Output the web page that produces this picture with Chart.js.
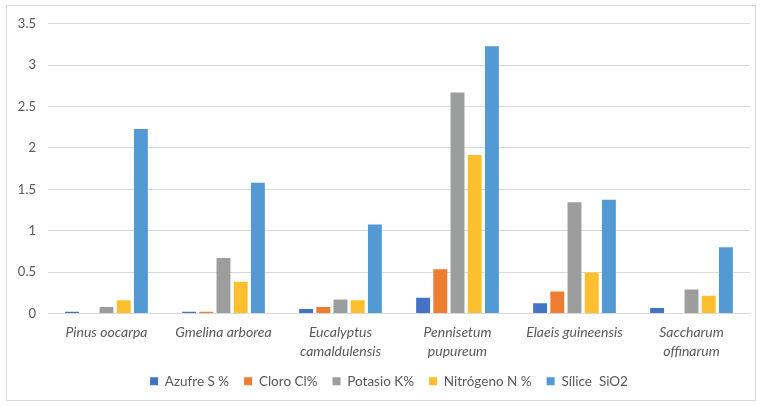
<!DOCTYPE html>
<html>
<head>
<meta charset="utf-8">
<script src="https://cdn.jsdelivr.net/npm/chart.js@4.4.1/dist/chart.umd.min.js"></script>
<style>
  html, body { margin: 0; padding: 0; background: #ffffff; }
  #wrap { position: relative; width: 760px; height: 406px; }
  #frame { position: absolute; left: 6px; top: 5px; width: 748px; height: 394px; border: 1px solid #d9d9d9; }
  canvas { position: absolute; left: 0; top: 0; }
</style>
</head>
<body>
<div id="wrap">
  <div id="frame"></div>
  <canvas id="c" width="760" height="406"></canvas>
</div>
<script>
// Species analysed
const categories = [
  'Pinus oocarpa',
  'Gmelina arborea',
  ['Eucalyptus', 'camaldulensis'],
  ['Pennisetum', 'pupureum'],
  'Elaeis guineensis',
  ['Saccharum', 'offinarum']
];

// Composition per species
const azufre    = [0.02, 0.02, 0.055, 0.19, 0.125, 0.065];
const cloro     = [0,    0.02, 0.08,  0.535, 0.265, 0];
const potasio   = [0.08, 0.67, 0.17,  2.67, 1.345, 0.29];
const nitrogeno = [0.16, 0.385, 0.16, 1.915, 0.495, 0.215];
const silice    = [2.23, 1.58, 1.075, 3.23, 1.375, 0.80];

const seriesNames = ['Azufre S %', 'Cloro Cl%', 'Potasio K%', 'Nitrógeno N %', 'Sílice  SiO2'];
const seriesColors = ['#4472c4', '#ed7d31', '#9c9e9e', '#fdbf2d', '#5399d4'];

const yTicks = [0, 0.5, 1, 1.5, 2, 2.5, 3, 3.5];

const FONT = 'Lato, "Open Sans", sans-serif';
const TEXT = '#595959';

const data = {
  labels: categories,
  datasets: [azufre, cloro, potasio, nitrogeno, silice].map((vals, i) => ({
    label: seriesNames[i],
    data: vals,
    backgroundColor: seriesColors[i],
    borderWidth: 0,
    barPercentage: 0.81,
    categoryPercentage: 0.735
  }))
};

// Nudge the legend row slightly right of the canvas center
const legendOffset = {
  id: 'legendOffset',
  afterLayout(chart) {
    const lg = chart.legend;
    if (!lg) return;
    lg.left += 14;
    lg.right += 14;
  }
};

new Chart(document.getElementById('c'), {
  type: 'bar',
  data,
  plugins: [legendOffset],
  options: {
    responsive: false,
    animation: false,
    devicePixelRatio: 1,
    layout: { padding: { left: 0, right: 10, top: 23.8, bottom: 8 } },
    scales: {
      x: {
        grid: { display: false, drawTicks: false },
        border: { display: true, color: '#d9d9d9', width: 1 },
        ticks: {
          color: TEXT,
          font: { family: FONT, size: 14, style: 'italic', lineHeight: 1.4 },
          padding: 9,
          maxRotation: 0,
          autoSkip: false
        },
        afterFit: s => { s.height = 46; }
      },
      y: {
        min: 0,
        max: 3.5,
        afterBuildTicks: s => { s.ticks = yTicks.map(v => ({ value: v })); },
        grid: { color: '#d9d9d9', lineWidth: 1, drawTicks: false },
        border: { display: false },
        ticks: {
          color: TEXT,
          font: { family: FONT, size: 13 },
          padding: 12,
          callback: v => String(v)
        },
        afterFit: s => { s.width = 48; }
      }
    },
    plugins: {
      tooltip: { enabled: false },
      legend: {
        position: 'bottom',
        labels: {
          color: TEXT,
          font: { family: FONT, size: 13.5 },
          boxWidth: 8,
          boxHeight: 8,
          padding: 15
        }
      }
    }
  }
});
</script>
</body>
</html>
